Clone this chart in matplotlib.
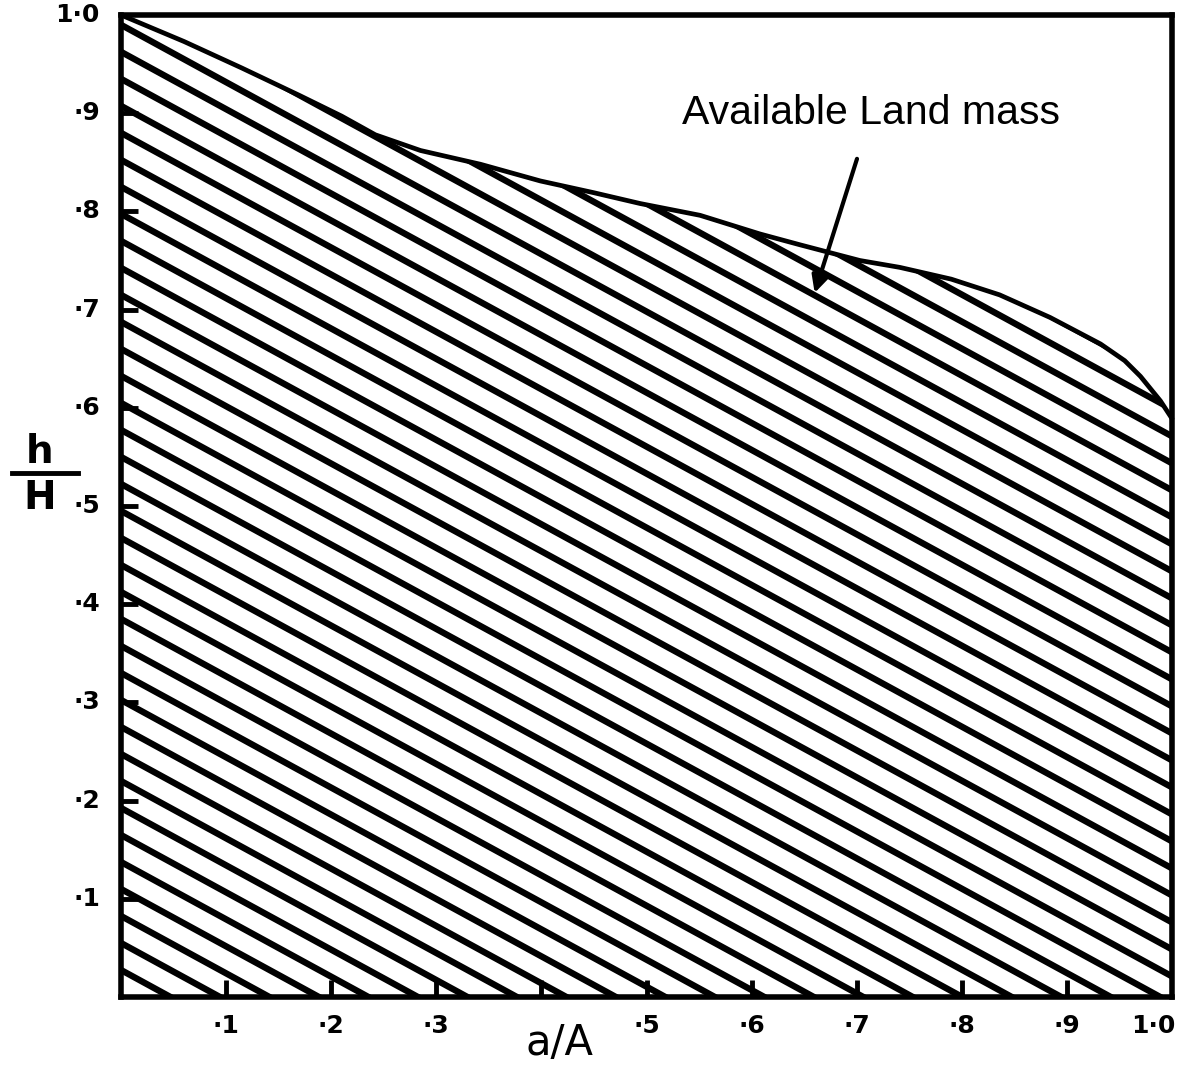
import numpy as np
import matplotlib
matplotlib.use("Agg")
import matplotlib.pyplot as plt
from matplotlib.patches import Polygon
from matplotlib.lines import Line2D

# Hypsometric curve
area_frac = [0.0, 0.06, 0.115, 0.17, 0.21, 0.242, 0.285, 0.342, 0.399, 0.45, 0.494,
             0.551, 0.608, 0.646, 0.703, 0.741, 0.79, 0.836, 0.884, 0.932, 0.955,
             0.97, 0.989, 1.0]
height_frac = [1.0, 0.973, 0.946, 0.918, 0.897, 0.878, 0.862, 0.848, 0.831, 0.819,
               0.808, 0.796, 0.777, 0.766, 0.750, 0.743, 0.731, 0.715, 0.692, 0.665,
               0.648, 0.632, 0.607, 0.589]

x_ticks = [0.1, 0.2, 0.3, 0.5, 0.6, 0.7, 0.8, 0.9, 1.0]
x_tick_labels = ['·1', '·2', '·3', '·5', '·6', '·7', '·8', '·9', '1·0']
x_tick_marks = [0.1, 0.2, 0.3, 0.4, 0.5, 0.6, 0.7, 0.8, 0.9]
y_ticks = [0.1, 0.2, 0.3, 0.4, 0.5, 0.6, 0.7, 0.8, 0.9, 1.0]
y_tick_labels = ['·1', '·2', '·3', '·4', '·5', '·6', '·7', '·8', '·9', '1·0']

annotation = "Available Land mass"

W, H = 1182, 1070
fig = plt.figure(figsize=(W / 100, H / 100), dpi=100)
ax = fig.add_axes([121 / W, 1 - 997 / H, (1172 - 121) / W, (997 - 15) / H])
ax.set_xlim(0, 1)
ax.set_ylim(0, 1)

lw_axis = 4.0
for s in ax.spines.values():
    s.set_linewidth(lw_axis)
    s.set_color('black')

# fill region polygon
poly_pts = [(0, 0)] + list(zip(area_frac, height_frac)) + [(1, 0)]
poly = Polygon(poly_pts, closed=True, facecolor='white', edgecolor='none',
               transform=ax.transData)
ax.add_patch(poly)

# hatching lines clipped to region
slope = 0.584
spacing = 0.0275
cs = np.arange(0.99 + 8 * spacing, -0.005, -spacing)
xs = np.array([-0.05, 1.05])
for c in cs:
    ln, = ax.plot(xs, c - slope * xs, color='black', lw=4.6,
                  solid_capstyle='round')
    ln.set_clip_path(poly)

# curve
ax.plot(area_frac, height_frac, color='black', lw=3.4, solid_joinstyle='round',
        solid_capstyle='round', clip_on=False)

# ticks
ax.set_xticks(x_tick_marks)
ax.set_yticks(y_ticks[:-1])
ax.tick_params(axis='both', direction='in', length=12, width=3.5, labelsize=0)
ax.set_xticklabels([])
ax.set_yticklabels([])

fs = dict(fontsize=18, fontweight='bold', family='DejaVu Sans')
for x, lab in zip(x_ticks, x_tick_labels):
    if lab == '1·0':
        ax.text(x + 0.003, -0.03, lab, ha='right', va='center',
                transform=ax.transData, clip_on=False, **fs)
    else:
        ax.text(x, -0.03, lab, ha='center', va='center',
                transform=ax.transData, clip_on=False, **fs)
for y, lab in zip(y_ticks, y_tick_labels):
    ax.text(-0.02, y, lab, ha='right', va='center', transform=ax.transData,
            clip_on=False, **fs)

# axis labels
fig.text(560 / W, 1 - 1043 / H, 'a/A', ha='center', va='center',
         fontsize=30, family='DejaVu Sans')
fig.text(40 / W, 1 - 452 / H, 'h', ha='center', va='center', fontsize=28,
         fontweight='bold', family='DejaVu Sans')
fig.text(40 / W, 1 - 498 / H, 'H', ha='center', va='center', fontsize=28,
         fontweight='bold', family='DejaVu Sans')
fig.add_artist(Line2D([12 / W, 78 / W], [1 - 473 / H, 1 - 473 / H],
                      transform=fig.transFigure, color='black', lw=3.5))

# annotation
ax.annotate(annotation, xy=(0.66, 0.717), xytext=(0.714, 0.900),
            ha='center', va='center', fontsize=29.5, family='Liberation Sans',
            arrowprops=dict(arrowstyle='-|>', color='black', lw=3,
                            mutation_scale=25, shrinkA=18, shrinkB=0))

fig.savefig('out.png', dpi=100)
